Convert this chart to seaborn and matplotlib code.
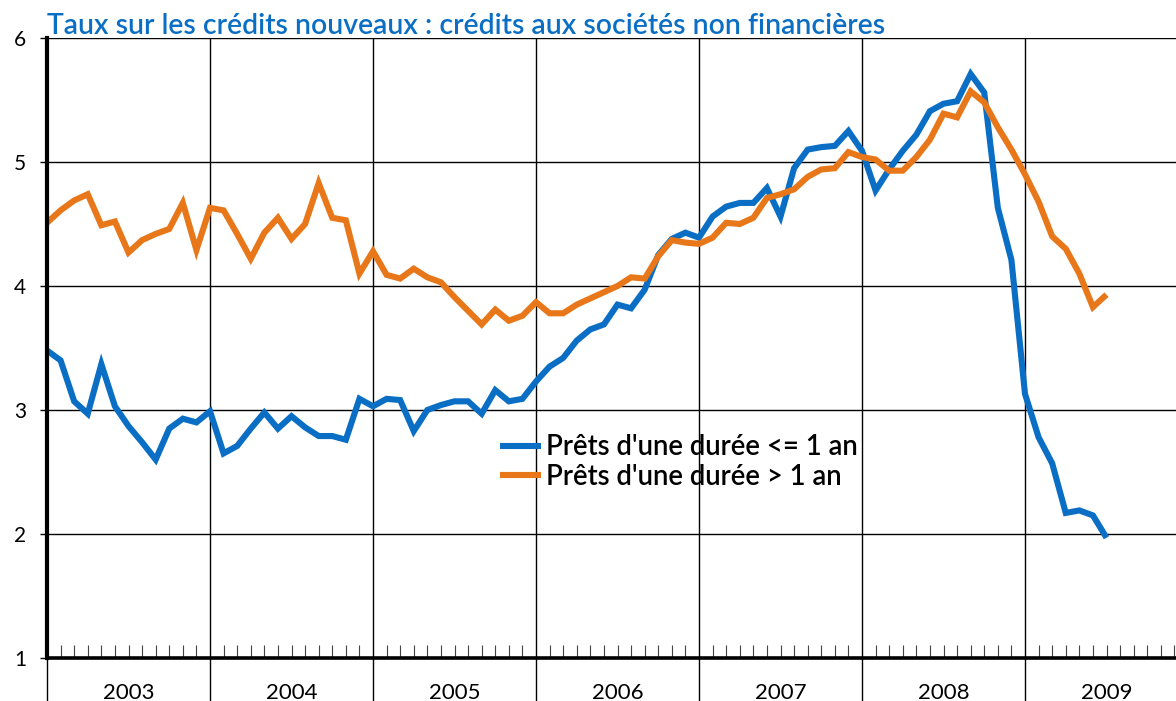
import numpy as np
import pandas as pd
import matplotlib
matplotlib.use("Agg")
import matplotlib.pyplot as plt
import seaborn as sns

# ---- data (monthly, Jan 2003 .. Jul 2009) ----
start_year = 2003
years = [2003, 2004, 2005, 2006, 2007, 2008, 2009]
court_terme = [3.48, 3.40, 3.07, 2.97, 3.37, 3.03, 2.87, 2.74, 2.60, 2.85, 2.93, 2.90,
               2.99, 2.65, 2.71, 2.85, 2.98, 2.85, 2.95, 2.86, 2.79, 2.79, 2.76, 3.09,
               3.03, 3.09, 3.08, 2.83, 3.00, 3.04, 3.07, 3.07, 2.97, 3.16, 3.07, 3.09,
               3.23, 3.35, 3.42, 3.56, 3.65, 3.69, 3.85, 3.82, 3.97, 4.25, 4.38, 4.43,
               4.39, 4.56, 4.64, 4.67, 4.67, 4.79, 4.56, 4.95, 5.10, 5.12, 5.13, 5.25,
               5.09, 4.77, 4.94, 5.09, 5.22, 5.41, 5.47, 5.49, 5.71, 5.56, 4.63, 4.21,
               3.13, 2.78, 2.57, 2.17, 2.19, 2.15, 1.97]
long_terme = [4.51, 4.61, 4.69, 4.74, 4.49, 4.52, 4.27, 4.37, 4.42, 4.46, 4.67, 4.29,
              4.63, 4.61, 4.42, 4.22, 4.43, 4.55, 4.38, 4.50, 4.83, 4.55, 4.53, 4.10,
              4.28, 4.09, 4.06, 4.14, 4.07, 4.03, 3.91, 3.80, 3.69, 3.81, 3.72, 3.76,
              3.87, 3.78, 3.78, 3.85, 3.90, 3.95, 4.00, 4.07, 4.06, 4.24, 4.37, 4.35,
              4.34, 4.39, 4.51, 4.50, 4.55, 4.71, 4.74, 4.78, 4.88, 4.94, 4.95, 5.08,
              5.04, 5.02, 4.93, 4.93, 5.04, 5.18, 5.39, 5.36, 5.57, 5.48, 5.28, 5.10,
              4.90, 4.68, 4.40, 4.30, 4.10, 3.83, 3.93]
series_names = ["Prêts d'une durée <= 1 an", "Prêts d'une durée > 1 an"]
colors = ["#0A6FC4", "#E8771A"]
title = "Taux sur les crédits nouveaux : crédits aux sociétés non financières"

dates = pd.date_range("2003-01-01", periods=len(court_terme), freq="MS")
month_idx = (dates.year - start_year) * 12 + (dates.month - 1)

df = pd.DataFrame({
    "mois": np.concatenate([month_idx, month_idx]),
    "taux": court_terme + long_terme,
    "serie": [series_names[0]] * len(court_terme) + [series_names[1]] * len(long_terme),
})

sns.set_theme(style="white")
plt.rcParams["font.family"] = ["Lato", "DejaVu Sans"]

W, H = 1176, 701
fig = plt.figure(figsize=(W / 100, H / 100), dpi=100)
ax = fig.add_axes([47 / W, 1 - 658 / H, 1 - 47 / W, 620 / H])

sns.lineplot(data=df, x="mois", y="taux", hue="serie", hue_order=series_names,
             palette=colors, linewidth=4.4, ax=ax, legend=True)
for ln in ax.lines:
    ln.set_solid_joinstyle("miter")
    ln.set_solid_capstyle("butt")

ax.set_xlabel("")
ax.set_ylabel("")

# x ticks: year boundaries (major), months (minor)
ax.set_xticks(range(0, 12 * len(years) + 1, 12))
ax.set_xticklabels([])
ax.set_xticks([m for m in range(12 * len(years)) if m % 12], minor=True)
ax.tick_params(axis="x", which="major", direction="out", length=31, width=1.0,
               color="black", bottom=True)
ax.tick_params(axis="x", which="minor", direction="in", length=9.5, width=0.8,
               color="#444444", bottom=True)

ax.set_yticks([1, 2, 3, 4, 5, 6])
ax.tick_params(axis="y", which="major", direction="out", length=5, width=1.0,
               color="black", left=True, labelsize=15, pad=10, labelcolor="black")

# limits after ticks (set_xticks may widen the view)
ax.set_xlim(0, (W - 47) / (163 / 12))
ax.set_ylim(1, 6)

ax.grid(True, which="major", color="black", linewidth=1.0)
ax.set_axisbelow(True)

for s in ["top", "right"]:
    ax.spines[s].set_visible(False)
ax.spines["left"].set_linewidth(3.0)
ax.spines["left"].set_color("black")
ax.spines["bottom"].set_linewidth(2.6)
ax.spines["bottom"].set_color("black")

for k, y in enumerate(years):
    ax.text(12 * k + 6, -0.056, str(y), transform=ax.get_xaxis_transform(),
            ha="center", va="center", fontsize=16, color="black", clip_on=False)

handles, labels = ax.get_legend_handles_labels()
leg = ax.legend(handles, labels, loc="center left", bbox_to_anchor=(0.401, 0.316),
                frameon=False, prop={"size": 19.8, "weight": "semibold"},
                handlelength=1.5, handletextpad=0.2,
                labelspacing=0.13, borderpad=0, borderaxespad=0, labelcolor="black")
for lh in leg.get_lines():
    lh.set_linewidth(4.4)

fig.text(47 / W, 1 - 34 / H, title, color="#0A6FC4", fontsize=20.4,
         fontweight="semibold", ha="left", va="baseline")

fig.savefig("out.png", dpi=100)
